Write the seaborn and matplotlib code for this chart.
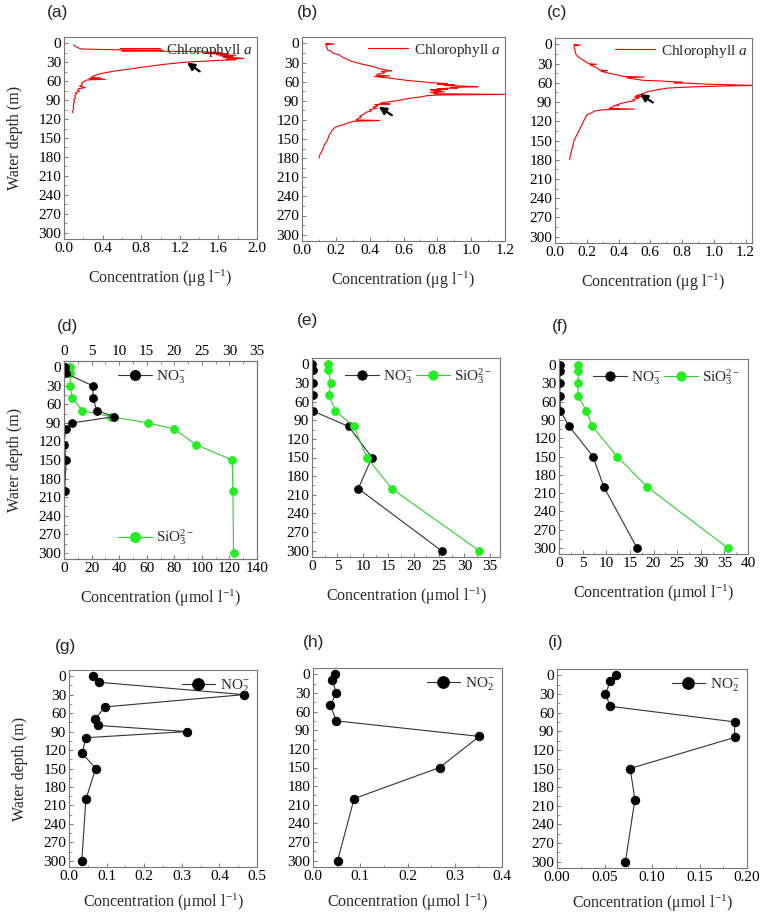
import matplotlib
matplotlib.use('Agg')
import matplotlib.pyplot as plt
import seaborn as sns
from matplotlib.ticker import MultipleLocator, AutoMinorLocator, FormatStrFormatter

sns.set_style('ticks')
plt.rcParams['font.family'] = ['Liberation Serif', 'DejaVu Serif']
plt.rcParams['mathtext.fontset'] = 'custom'
plt.rcParams['mathtext.rm'] = 'Liberation Serif'
plt.rcParams['mathtext.it'] = 'Liberation Serif:italic'
plt.rcParams['mathtext.bf'] = 'Liberation Serif:bold'

# ---- chlorophyll a profiles (row 1) ----
chl_depth_a = [2, 4, 6, 8, 9, 10, 11, 12, 13, 14, 15, 16, 17, 18, 19, 20, 21, 22, 23, 24, 25,
               26, 27, 28, 29, 30, 32, 34, 36, 38, 40, 42, 44, 46, 48, 50, 52, 54, 55, 56, 57,
               58, 60, 62, 64, 66, 68, 70, 72, 74, 76, 78, 80, 83, 86, 89, 92, 95, 98, 101,
               104, 107, 110]
chl_a = [0.10, 0.11, 0.13, 0.16, 0.18, 0.45, 1.02, 0.60, 1.30, 1.55, 1.62, 1.45, 1.70, 1.58,
         1.78, 1.62, 1.75, 1.65, 1.80, 1.86, 1.68, 1.78, 1.60, 1.50, 1.35, 1.25, 1.12, 1.00,
         0.90, 0.80, 0.72, 0.62, 0.52, 0.45, 0.38, 0.34, 0.30, 0.28, 0.38, 0.26, 0.43, 0.24,
         0.21, 0.19, 0.18, 0.19, 0.16, 0.22, 0.15, 0.14, 0.16, 0.12, 0.13, 0.11, 0.12, 0.10,
         0.11, 0.10, 0.10, 0.095, 0.10, 0.09, 0.09]

chl_depth_b = [0, 1, 2, 5, 8, 10, 12, 15, 18, 20, 23, 25, 28, 30, 33, 35, 38, 40, 42, 43, 44,
               46, 48, 50, 51, 52, 54, 56, 58, 60, 62, 63, 64, 65, 66, 67, 68, 69, 70, 71, 72,
               73, 74, 75, 76, 77, 78, 79, 80, 81, 82, 84, 86, 88, 90, 92, 94, 95, 96, 98, 100,
               102, 104, 106, 108, 110, 112, 114, 116, 118, 120, 121, 122, 124, 126, 128, 130,
               133, 136, 140, 144, 148, 152, 156, 160, 165, 170, 175, 180]
chl_b = [0.14, 0.19, 0.14, 0.145, 0.15, 0.15, 0.17, 0.18, 0.22, 0.23, 0.25, 0.27, 0.29, 0.32,
         0.36, 0.40, 0.44, 0.46, 0.50, 0.53, 0.47, 0.49, 0.45, 0.44, 0.52, 0.43, 0.50, 0.56,
         0.62, 0.70, 0.78, 0.86, 0.80, 0.90, 0.84, 0.95, 1.04, 0.88, 0.92, 0.80, 0.86, 0.76,
         0.82, 0.78, 0.84, 0.76, 0.80, 0.78, 1.20, 0.80, 0.74, 0.70, 0.64, 0.60, 0.56, 0.50,
         0.46, 0.52, 0.43, 0.45, 0.42, 0.44, 0.40, 0.41, 0.38, 0.37, 0.36, 0.34, 0.35, 0.33,
         0.32, 0.46, 0.31, 0.28, 0.26, 0.24, 0.21, 0.19, 0.18, 0.17, 0.16, 0.155, 0.15, 0.14,
         0.13, 0.125, 0.115, 0.105, 0.10]

chl_depth_c = [0, 1, 2, 5, 8, 10, 13, 15, 18, 20, 22, 25, 28, 30, 31, 32, 35, 38, 40, 41, 42,
               45, 48, 50, 51, 52, 54, 56, 57, 58, 59, 60, 61, 62, 63, 64, 65, 66, 67, 68, 70,
               72, 74, 76, 78, 80, 81, 82, 84, 86, 88, 90, 92, 94, 95, 96, 98, 100, 101, 102,
               104, 106, 108, 110, 115, 120, 125, 130, 135, 140, 145, 150, 155, 160, 165, 170,
               175, 180]
chl_c = [0.12, 0.16, 0.12, 0.12, 0.125, 0.125, 0.13, 0.13, 0.14, 0.15, 0.16, 0.18, 0.20, 0.21,
         0.26, 0.22, 0.25, 0.27, 0.28, 0.33, 0.29, 0.34, 0.40, 0.43, 0.56, 0.45, 0.50, 0.55,
         0.66, 0.72, 0.80, 0.75, 0.88, 0.95, 1.10, 1.26, 1.05, 0.91, 0.80, 0.72, 0.66, 0.62,
         0.58, 0.56, 0.54, 0.51, 0.55, 0.50, 0.53, 0.49, 0.50, 0.45, 0.42, 0.39, 0.40, 0.37,
         0.36, 0.34, 0.50, 0.30, 0.25, 0.235, 0.22, 0.20, 0.19, 0.18, 0.17, 0.16, 0.15, 0.14,
         0.13, 0.12, 0.115, 0.11, 0.105, 0.10, 0.095, 0.093]

# ---- nitrate / silicate (row 2) ----
no3_depth_d = [0, 10, 30, 50, 70, 80, 90, 100, 125, 150, 200]
no3_d = [0.1, 0.3, 5.2, 5.3, 5.9, 9.1, 1.5, 0.3, 0.0, 0.4, 0.1]
sio3_depth_d = [0, 10, 30, 50, 70, 80, 90, 100, 125, 150, 200, 300]
sio3_d = [4.1, 4.6, 4.4, 6.0, 13.3, 34.0, 61.0, 80.0, 95.6, 122.0, 122.5, 123.0]

nut_depth = [0, 10, 30, 50, 75, 100, 150, 200, 300]
no3_e = [0.0, 0.1, 0.2, 0.1, 0.1, 7.2, 11.8, 9.1, 25.5]
sio3_e = [3.2, 3.2, 3.7, 3.3, 4.6, 8.2, 10.8, 15.7, 32.9]
no3_f = [0.2, 0.2, 0.2, 0.2, 0.3, 2.1, 7.2, 9.5, 16.5]
sio3_f = [4.1, 4.1, 4.0, 4.0, 5.8, 7.0, 12.3, 18.7, 35.7]

# ---- nitrite (row 3) ----
no2_depth_g = [0, 10, 30, 50, 70, 80, 90, 100, 125, 150, 200, 300]
no2_g = [0.065, 0.081, 0.465, 0.095, 0.070, 0.076, 0.314, 0.045, 0.035, 0.071, 0.045, 0.034]
no2_h = [0.047, 0.041, 0.049, 0.037, 0.049, 0.352, 0.268, 0.087, 0.052]
no2_i = [0.062, 0.056, 0.051, 0.056, 0.187, 0.187, 0.077, 0.082, 0.072]

ug_label = r'Concentration ($\mathregular{\mu}$g l$^{\mathregular{-1}}$)'
umol_label = r'Concentration ($\mathregular{\mu}$mol l$^{\mathregular{-1}}$)'
chl_name = r'Chlorophyll $\it{a}$'
no3_name = r'NO$_3^{-}$'
sio3_name = r'SiO$_3^{2-}$'
no2_name = r'NO$_2^{-}$'

W, H = 760, 915
fig = plt.figure(figsize=(7.6, 9.15), dpi=100)


def make_ax(l, r, t, b):
    return fig.add_axes([l / W, 1 - b / H, (r - l) / W, (b - t) / H])


def style_ticks(ax):
    ax.tick_params(which='both', direction='in', color='#666666', labelcolor='black',
                   labelsize=11, pad=2)
    ax.tick_params(which='major', length=3, width=0.6)
    ax.tick_params(which='minor', length=1.8, width=0.5)
    for s in ax.spines.values():
        s.set_color('#777777')
        s.set_linewidth(0.8)


def style_ax(ax, xlim, xstep, xlabel, ylabel=True, pad=9.5):
    ax.set_ylim(310, -10)
    ax.set_xlim(*xlim)
    ax.yaxis.set_major_locator(MultipleLocator(30))
    ax.yaxis.set_minor_locator(MultipleLocator(15))
    ax.xaxis.set_major_locator(MultipleLocator(xstep))
    ax.xaxis.set_minor_locator(AutoMinorLocator(2))
    style_ticks(ax)
    ax.set_xlabel(xlabel, fontsize=11.5, labelpad=pad)
    if ylabel:
        ax.set_ylabel('Water depth (m)', fontsize=11.5, labelpad=11)
    else:
        ax.set_ylabel('')


def chl_panel(ax, depth, vals, xlim, xstep, arrow, ylabel):
    sns.lineplot(x=vals, y=depth, sort=False, estimator=None, color='red', lw=0.8,
                 label=chl_name, ax=ax)
    ax.legend(loc='upper right', frameon=False, fontsize=11, handlelength=2.6,
              borderaxespad=0.1, borderpad=0.2, handletextpad=0.4)
    ax.annotate('', xy=arrow[0], xytext=arrow[1],
                arrowprops=dict(arrowstyle='-|>', color='black', lw=1.6, mutation_scale=11))
    style_ax(ax, xlim, xstep, ug_label, ylabel)


def dot_line(ax, x, y, color, lcolor, label, ms=5.5):
    sns.lineplot(x=x, y=y, sort=False, estimator=None, color=lcolor, lw=0.8,
                 marker='o', markersize=ms, markerfacecolor=color, markeredgecolor=color,
                 label=label, ax=ax)


black, grey_line = 'black', '#333333'
green, green_line = '#22ee22', '#33cc33'

# row 1
ax_a = make_ax(64, 257, 37, 239)
chl_panel(ax_a, chl_depth_a, chl_a, (0, 2.0), 0.4, ((1.25, 28), (1.43, 47)), True)
ax_b = make_ax(302, 505, 37, 241)
chl_panel(ax_b, chl_depth_b, chl_b, (0, 1.2), 0.2, ((0.44, 97), (0.545, 115)), False)
ax_c = make_ax(555, 752, 38, 243)
chl_panel(ax_c, chl_depth_c, chl_c, (0, 1.24), 0.2, ((0.52, 75), (0.63, 93)), False)

# row 2
ax_d = make_ax(64, 257, 361, 559)
dot_line(ax_d, sio3_d, sio3_depth_d, green, green_line, sio3_name)
ax_d2 = ax_d.twiny()
dot_line(ax_d2, no3_d, no3_depth_d, black, grey_line, no3_name)
style_ax(ax_d, (0, 140), 20, umol_label, True)
ax_d2.set_xlim(0, 35)
ax_d2.xaxis.set_major_locator(MultipleLocator(5))
ax_d2.xaxis.set_minor_locator(AutoMinorLocator(2))
style_ticks(ax_d2)
ax_d2.legend(loc='upper left', bbox_to_anchor=(0.24, 1.0), frameon=False, fontsize=11,
             handlelength=2.2, borderaxespad=0.1, handletextpad=0.3, markerscale=1.3)
ax_d.legend(loc='lower left', bbox_to_anchor=(0.24, 0.02), frameon=False, fontsize=11,
            handlelength=2.2, borderaxespad=0.1, handletextpad=0.3, markerscale=1.3)

for l, r, t, b, n3, s3, xmax in [(312, 500, 358, 557, no3_e, sio3_e, 37),
                                 (559, 748, 359, 554, no3_f, sio3_f, 40)]:
    ax = make_ax(l, r, t, b)
    dot_line(ax, n3, nut_depth, black, grey_line, no3_name)
    dot_line(ax, s3, nut_depth, green, green_line, sio3_name)
    ax.legend(loc='upper right', ncol=2, frameon=False, fontsize=11, handlelength=2.2,
              columnspacing=0.2, borderaxespad=0.1, handletextpad=0.3, markerscale=1.2)
    style_ax(ax, (0, xmax), 5, umol_label, False)

# row 3
for l, r, t, b, depth, vals, xlim, xstep, ylab in [
        (69, 257, 670, 867, no2_depth_g, no2_g, (0, 0.5), 0.1, True),
        (313, 502, 668, 867, nut_depth, no2_h, (0, 0.4), 0.1, False),
        (557, 747, 669, 868, nut_depth, no2_i, (0, 0.2), 0.05, False)]:
    ax = make_ax(l, r, t, b)
    dot_line(ax, vals, depth, black, grey_line, no2_name, ms=6)
    ax.legend(loc='upper right', frameon=False, fontsize=11, handlelength=2.2,
              borderaxespad=0.1, handletextpad=0.3, markerscale=1.4)
    style_ax(ax, xlim, xstep, umol_label, ylab, pad=6.5)
    if xstep == 0.05:
        ax.xaxis.set_major_formatter(FormatStrFormatter('%.2f'))

# panel letters
for letter, x, y in [('(a)', 47, 12), ('(b)', 297, 13), ('(c)', 547, 12),
                     ('(d)', 57, 327), ('(e)', 297, 320), ('(f)', 552, 327),
                     ('(g)', 55, 647), ('(h)', 303, 642), ('(i)', 548, 643)]:
    fig.text(x / W, 1 - y / H, letter, ha='left', va='center', fontsize=12.5,
             family=['Liberation Sans', 'DejaVu Sans'])

fig.savefig('out.png', dpi=100)
